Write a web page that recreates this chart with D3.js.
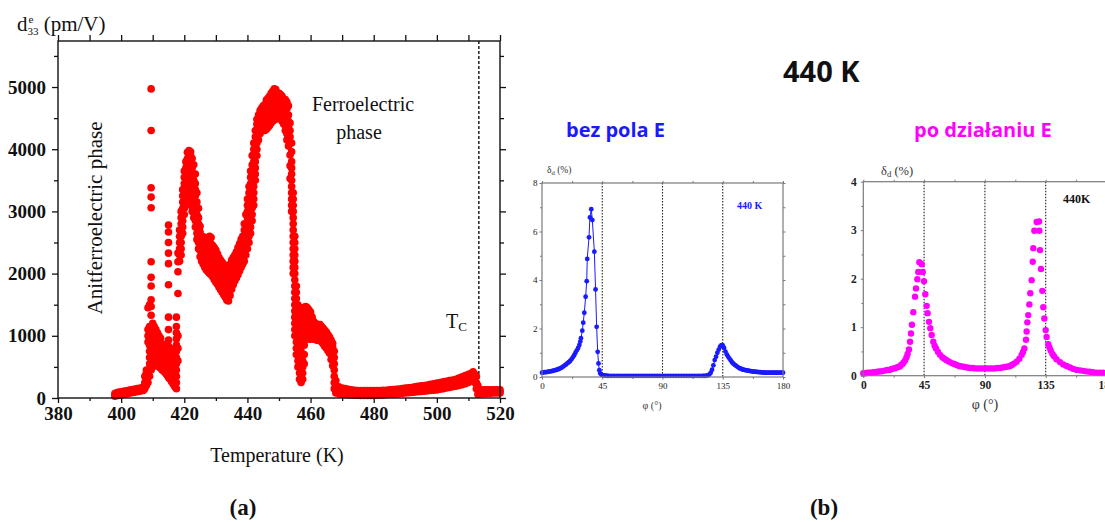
<!DOCTYPE html>
<html>
<head>
<meta charset="utf-8">
<script src="https://cdn.jsdelivr.net/npm/d3@7"></script>
<style>
  body { margin: 0; background: #fff; }
  svg { display: block; }
</style>
</head>
<body>
<svg id="fig" width="1105" height="522"></svg>
<script>
// ---------- (a) piezoelectric coefficient d33 versus temperature ----------
// each row: [temperature (K), d33 values (pm/V) recorded at that temperature ...]
const d33Rows = [
  [398, 30, 70], [398.5, 40, 80], [399, 40, 90], [399.5, 50, 90], [400, 50, 100],
  [401, 60, 110], [402, 70, 120], [403, 80, 130], [404, 90, 140], [405, 100, 150],
  [406, 110, 160], [407, 120, 180], [407.5, 150, 250, 350], [408, 200, 300, 400, 450],
  [408.5, 250, 350, 450, 900, 1000, 1100, 1450],
  [409, 350, 450, 550, 650, 750, 850, 950, 1050, 1150, 1500],
  [409.5, 450, 550, 650, 750, 850, 950, 1050, 1150, 1330, 1470, 1580, 1800, 1940, 2190, 3060, 3230, 3380, 4300, 4970],
  [410, 500, 600, 700, 800, 900, 1000, 1100, 1200],
  [410.5, 550, 650, 750, 850, 950, 1050, 1150],
  [411, 600, 700, 800, 900, 1000, 1100],
  [411.5, 550, 650, 750, 850, 950, 1050],
  [412, 500, 600, 700, 800, 900, 1000],
  [412.5, 480, 580, 680, 780, 880, 960],
  [413, 450, 550, 650, 750, 850],
  [413.5, 430, 530, 630, 730, 830],
  [414, 400, 500, 600, 700, 800],
  [414.5, 370, 470, 570, 670, 770, 870],
  [415, 330, 430, 530, 630, 730, 830, 930, 1100, 1300, 1820, 2160, 2330, 2500, 2670, 2780],
  [415.5, 300, 400, 500, 600, 700, 800],
  [416, 260, 360, 460, 560, 660, 760],
  [416.5, 220, 320, 420, 520, 620, 720],
  [417, 180, 280, 380, 480, 580, 680, 780],
  [417.5, 150, 250, 350, 450, 550, 650, 750, 850, 950, 1050, 1150, 1300],
  [418, 600, 800, 1000, 1680, 2030, 2190, 2330],
  [418.5, 2200, 2300, 2400, 2500, 2600, 2700],
  [419, 2300, 2400, 2500, 2600, 2700, 2800, 2900, 3000],
  [419.5, 2650, 2750, 2850, 2950, 3050, 3150, 3250, 3350],
  [420, 2950, 3050, 3150, 3250, 3350, 3450, 3550, 3650],
  [420.5, 3200, 3300, 3400, 3500, 3600, 3700, 3800],
  [421, 3450, 3550, 3650, 3750, 3850, 3950],
  [421.5, 3600, 3700, 3800, 3900, 3980],
  [422, 3100, 3200, 3300, 3400, 3500, 3600, 3700, 3800, 3900, 3960],
  [422.5, 3000, 3100, 3200, 3300, 3400, 3500, 3600, 3700, 3850],
  [423, 2900, 3000, 3100, 3200, 3300, 3400, 3500, 3600, 3750],
  [423.5, 2750, 2850, 2950, 3050, 3150, 3250, 3350, 3450, 3600],
  [424, 2550, 2650, 2750, 2850, 2950, 3050, 3150, 3300],
  [424.5, 2400, 2500, 2600, 2700, 2800, 2900, 3050],
  [425, 2270, 2370, 2470, 2570, 2670, 2760],
  [425.5, 2200, 2300, 2400, 2500, 2600],
  [426, 2150, 2250, 2350, 2450, 2590],
  [426.5, 2100, 2200, 2300, 2400, 2500, 2580],
  [427, 2060, 2160, 2260, 2360, 2460, 2560],
  [427.5, 2030, 2130, 2230, 2330, 2430, 2530],
  [428, 2000, 2100, 2200, 2300, 2400, 2500, 2600],
  [428.5, 1980, 2080, 2180, 2280, 2380, 2480, 2580],
  [429, 1950, 2050, 2150, 2250, 2350, 2450],
  [429.5, 1900, 2000, 2100, 2200, 2300, 2420],
  [430, 1860, 1960, 2060, 2160, 2260, 2380],
  [430.5, 1830, 1930, 2030, 2130, 2230, 2320],
  [431, 1780, 1880, 1980, 2080, 2180, 2260],
  [431.5, 1740, 1840, 1940, 2040, 2140, 2220],
  [432, 1700, 1800, 1900, 2000, 2100, 2180],
  [432.5, 1660, 1760, 1860, 1960, 2060, 2150],
  [433, 1620, 1720, 1820, 1920, 2020, 2120],
  [433.5, 1570, 1670, 1770, 1870, 1970, 2100],
  [434, 1560, 1660, 1760, 1860, 1960, 2080],
  [434.5, 1650, 1750, 1850, 1950, 2050, 2150],
  [435, 1750, 1850, 1950, 2050, 2150, 2220],
  [435.5, 1820, 1920, 2020, 2120, 2260],
  [436, 1880, 1980, 2080, 2180, 2300],
  [436.5, 1930, 2030, 2130, 2230, 2350],
  [437, 1980, 2080, 2180, 2280, 2420],
  [437.5, 2040, 2140, 2240, 2340, 2480],
  [438, 2100, 2200, 2300, 2400, 2550],
  [438.5, 2150, 2250, 2350, 2450, 2600],
  [439, 2200, 2300, 2400, 2500, 2600, 2700, 2800],
  [439.5, 2300, 2400, 2500, 2600, 2700, 2800, 2950],
  [440, 2400, 2500, 2600, 2700, 2800, 2900, 3000, 3100, 3200],
  [440.5, 2500, 2600, 2700, 2800, 2900, 3000, 3100, 3200, 3300, 3400],
  [441, 2650, 2750, 2850, 2950, 3050, 3150, 3250, 3350, 3450, 3550, 3650],
  [441.5, 2850, 2950, 3050, 3150, 3250, 3350, 3450, 3550, 3650, 3750, 3900],
  [442, 3100, 3200, 3300, 3400, 3500, 3600, 3700, 3800, 3900, 4000, 4100],
  [442.5, 3500, 3600, 3700, 3800, 3900, 4000, 4100, 4200, 4300],
  [443, 3900, 4000, 4100, 4200, 4300, 4400, 4480],
  [443.5, 4150, 4250, 4350, 4450, 4550],
  [444, 4250, 4350, 4450, 4550, 4620],
  [444.5, 4300, 4400, 4500, 4600, 4660],
  [445, 4300, 4400, 4500, 4600, 4700],
  [445.5, 4300, 4400, 4500, 4600, 4720],
  [446, 4320, 4420, 4520, 4620, 4720, 4790],
  [446.5, 4350, 4450, 4550, 4650, 4750, 4820],
  [447, 4380, 4480, 4580, 4680, 4780, 4850],
  [447.5, 4420, 4520, 4620, 4720, 4820, 4900],
  [448, 4450, 4550, 4650, 4750, 4850, 4930],
  [448.5, 4500, 4600, 4700, 4800, 4900, 4970],
  [449, 4480, 4580, 4680, 4780, 4880, 4960],
  [449.5, 4500, 4600, 4700, 4800, 4900],
  [450, 4520, 4620, 4720, 4820, 4900],
  [450.5, 4500, 4600, 4700, 4800, 4880],
  [451, 4450, 4550, 4650, 4750, 4850],
  [451.5, 4400, 4500, 4600, 4700, 4800],
  [452, 4300, 4400, 4500, 4600, 4700, 4800],
  [452.5, 4150, 4250, 4350, 4450, 4550, 4650, 4760],
  [453, 4050, 4150, 4250, 4350, 4450, 4550, 4700],
  [453.5, 3530, 3735, 3907, 4100, 4200, 4300, 4420],
  [454, 3000, 3100, 3200, 3300, 3400, 3500, 3600, 3700, 3800, 3960, 4100],
  [454.5, 2000, 2100, 2200, 2300, 2400, 2500, 2600, 2700, 2800, 2900, 3000, 3100, 3200, 3300],
  [455, 1000, 1100, 1200, 1300, 1400, 1500, 1600, 1700, 1800, 1900, 2000, 2100, 2200, 2300, 2400, 2500, 2600],
  [455.5, 700, 800, 900, 1000, 1100, 1200, 1300, 1400, 1500, 1600, 1700, 1800],
  [456, 500, 600, 700, 800, 900, 1000, 1100, 1200, 1300, 1400, 1500],
  [456.5, 300, 400, 500, 600, 700, 800, 900, 1000, 1250, 1350, 1450],
  [457, 250, 350, 450, 550, 650, 750, 1100, 1200, 1300, 1420],
  [457.5, 300, 400, 500, 600, 700, 1050, 1150, 1250, 1350, 1450],
  [458, 550, 700, 850, 1000, 1100, 1200, 1300, 1400, 1460],
  [458.5, 950, 1050, 1150, 1250, 1350, 1470],
  [459, 950, 1050, 1150, 1250, 1350, 1450],
  [459.5, 950, 1050, 1150, 1250, 1350, 1420],
  [460, 950, 1050, 1150, 1250, 1380],
  [460.5, 950, 1050, 1150, 1250, 1300],
  [461, 950, 1050, 1150, 1230],
  [461.5, 940, 1040, 1140, 1200],
  [462, 930, 1030, 1130, 1180],
  [462.5, 930, 1030, 1130, 1180],
  [463, 930, 1030, 1130, 1180],
  [463.5, 900, 1000, 1100, 1150],
  [464, 870, 970, 1070, 1120],
  [464.5, 830, 930, 1030, 1090],
  [465, 800, 900, 1000, 1060],
  [465.5, 760, 860, 960, 1020],
  [466, 720, 820, 920, 980],
  [466.5, 620, 720, 820, 930],
  [467, 520, 620, 720, 820, 880],
  [467.5, 150, 250, 350, 450, 550, 650, 750],
  [468, 80, 180, 280],
  [469, 70, 130, 180], [470, 60, 110, 160], [471, 55, 100, 150], [472, 50, 95, 140],
  [473, 50, 90, 130], [474, 45, 85, 125], [475, 45, 85, 120], [476, 40, 80, 120],
  [477, 40, 80, 120], [478, 40, 80, 120], [479, 40, 80, 120], [480, 40, 80, 120],
  [481, 45, 85, 120], [482, 50, 85, 120], [483, 50, 90, 125], [484, 55, 90, 125],
  [485, 60, 95, 130], [486, 60, 100, 135], [487, 65, 105, 140], [488, 70, 110, 145],
  [489, 75, 115, 150], [490, 80, 120, 160], [491, 85, 125, 165], [492, 90, 130, 170],
  [493, 95, 135, 180], [494, 100, 145, 190], [495, 105, 150, 195], [496, 110, 155, 200],
  [497, 115, 160, 210], [498, 120, 170, 220], [499, 125, 175, 230], [500, 130, 180, 240],
  [501, 140, 190, 250], [502, 150, 200, 260], [503, 160, 215, 270], [504, 170, 225, 280],
  [505, 180, 235, 290], [506, 190, 245, 300], [507, 200, 260, 320], [508, 215, 275, 340],
  [509, 230, 295, 360], [510, 250, 320, 380], [511, 280, 340, 400], [511.5, 300, 360, 420],
  [512, 250, 320, 380], [512.5, 150, 250, 350], [513, 60, 130, 200], [514, 70, 100, 130],
  [515, 70, 100, 130], [516, 75, 105, 130], [517, 75, 105, 130], [518, 80, 105, 130],
  [519, 80, 105, 130], [520, 80, 105, 130]
];
const tempTicks = [380, 400, 420, 440, 460, 480, 500, 520];
const tempMinorTicks = [390, 410, 430, 450, 470, 490, 510];
const d33Ticks = [0, 1000, 2000, 3000, 4000, 5000];
const d33MinorTicks = [500, 1500, 2500, 3500, 4500, 5500];
const curieTemp = 513.3;

// ---------- (b) angular dependence of delta_d at 440 K ----------
const phiTicks = [0, 45, 90, 135, 180];
const phiMinorTicks = [22.5, 67.5, 112.5, 157.5];
const phiGuides = [45, 90, 135];

// before the electric field: [phi (deg), delta_d (%)]
const deltaBefore = [
  [0, 0.18], [1, 0.19], [2, 0.2], [3, 0.2], [4, 0.21], [5, 0.22], [6, 0.23], [7, 0.24],
  [8, 0.25], [9, 0.27], [10, 0.28], [11, 0.3], [12, 0.32], [13, 0.34], [14, 0.37], [15, 0.4],
  [16, 0.44], [17, 0.48], [18, 0.52], [19, 0.57], [20, 0.61], [21, 0.66], [22, 0.73], [23, 0.81],
  [24, 0.9], [25, 1.0], [26, 1.1], [27, 1.2], [27.9, 1.32], [28.6, 1.46], [29.1, 1.6], [30.1, 1.91],
  [30.8, 2.24], [31.6, 2.65], [32.6, 3.31], [33.4, 3.95], [33.8, 4.87], [35.1, 5.76], [35.8, 6.58],
  [36.8, 6.92], [37.6, 6.47], [39.1, 5.17], [40.0, 3.61], [40.8, 2.07], [41.6, 1.04], [42.2, 0.56],
  [42.8, 0.28], [43.5, 0.15], [44.3, 0.1], [45, 0.08], [46, 0.07], [47, 0.06], [48, 0.06],
  [49, 0.05], [50, 0.05], [52, 0.05], [54, 0.05], [56, 0.05], [58, 0.05], [60, 0.05], [62, 0.05],
  [64, 0.05], [66, 0.05], [68, 0.05], [70, 0.05], [72, 0.05], [74, 0.05], [76, 0.05], [78, 0.05],
  [80, 0.05], [82, 0.05], [84, 0.05], [86, 0.05], [88, 0.05], [90, 0.05], [92, 0.05], [94, 0.05],
  [96, 0.05], [98, 0.05], [100, 0.05], [102, 0.05], [104, 0.05], [106, 0.05], [108, 0.05],
  [110, 0.05], [112, 0.05], [114, 0.05], [116, 0.05], [118, 0.05], [120, 0.05], [121, 0.05],
  [122, 0.05], [123, 0.06], [124, 0.07], [125, 0.1], [126, 0.18], [127, 0.3], [128, 0.48],
  [129, 0.7], [130, 0.84], [131, 1.0], [132, 1.13], [133, 1.25], [134, 1.31], [135, 1.3],
  [136, 1.2], [137, 1.05], [138, 0.93], [139, 0.84], [140, 0.76], [141, 0.68], [142, 0.6],
  [143, 0.55], [144, 0.5], [145, 0.46], [146, 0.42], [147, 0.38], [148, 0.35], [149, 0.33],
  [150, 0.31], [151, 0.29], [152, 0.28], [153, 0.27], [154, 0.26], [155, 0.25], [156, 0.24],
  [157, 0.23], [158, 0.22], [159, 0.22], [160, 0.21], [161, 0.21], [162, 0.2], [163, 0.2],
  [164, 0.19], [165, 0.19], [166, 0.18], [167, 0.18], [168, 0.18], [169, 0.18], [170, 0.18],
  [171, 0.18], [172, 0.18], [173, 0.18], [174, 0.18], [175, 0.18], [176, 0.18], [177, 0.18],
  [178, 0.18], [179, 0.18], [180, 0.18]
];

// after the electric field: [phi (deg), delta_d (%)]
const deltaAfter = [
  [0, 0.05], [1.5, 0.05], [3, 0.06], [4.5, 0.06], [6, 0.06], [7.5, 0.07], [9, 0.07], [10.5, 0.08],
  [12, 0.09], [13.5, 0.09], [15, 0.1], [16.5, 0.11], [18, 0.12], [19.5, 0.12], [21, 0.14],
  [22.5, 0.15], [24, 0.16], [25.5, 0.18], [27, 0.19], [28, 0.22], [29, 0.24], [30, 0.28],
  [31, 0.32], [32, 0.38], [32.8, 0.45], [33.8, 0.54], [34.6, 0.7], [35.3, 0.87], [36, 1.05],
  [37, 1.31], [38.3, 1.63], [39, 1.8], [40, 1.99], [40.7, 2.14], [41.5, 2.34], [43.2, 2.3],
  [44, 2.14], [44.9, 1.95], [45.9, 1.68], [46.9, 1.44], [47.6, 1.29], [48.6, 1.11], [49.6, 0.98],
  [50.6, 0.84], [51.8, 0.7], [52.8, 0.62], [53.8, 0.56], [55.3, 0.49], [56.8, 0.43], [58.5, 0.38],
  [60, 0.35], [61.7, 0.32], [63.5, 0.29], [65.5, 0.26], [67.3, 0.24], [69.1, 0.22], [71, 0.2],
  [73, 0.19], [75, 0.18], [77, 0.17], [79, 0.16], [81, 0.16], [83, 0.15], [85, 0.15], [87, 0.15],
  [89, 0.15], [91, 0.15], [93, 0.15], [95, 0.15], [97, 0.15], [99, 0.16], [101.2, 0.16],
  [103, 0.17], [105, 0.18], [107, 0.19], [108.6, 0.2], [110, 0.22], [111.5, 0.25], [113.5, 0.29],
  [115.5, 0.35], [117.2, 0.43], [118.2, 0.49], [119.2, 0.56], [120.4, 0.74], [120.9, 0.91],
  [121.4, 1.1], [122.1, 1.25], [122.9, 1.47], [123.6, 1.7], [124.6, 1.97], [125.4, 2.35],
  [125.8, 2.63], [126.6, 2.99], [128.3, 3.17], [130.1, 3.18], [130.3, 2.99], [130.8, 2.59],
  [131.5, 2.2], [132.5, 1.75], [133.2, 1.41], [134.0, 1.18], [135, 0.94], [135.7, 0.8],
  [136.9, 0.65], [137.8, 0.58], [138.7, 0.52], [140, 0.45], [141.2, 0.4], [143, 0.34],
  [145.6, 0.28], [148, 0.23], [150.5, 0.2], [153, 0.17], [155.5, 0.14], [158, 0.12],
  [160.5, 0.11], [162.8, 0.1], [165, 0.09], [167.5, 0.08], [170, 0.07], [172.7, 0.06],
  [175, 0.06], [177.5, 0.06], [180, 0.06]
];
const deltaBeforeTicks = [0, 2, 4, 6, 8];
const deltaBeforeMinor = [1, 3, 5, 7];
const deltaAfterTicks = [0, 1, 2, 3, 4];
const deltaAfterMinor = [0.5, 1.5, 2.5, 3.5];

const svg = d3.select("#fig");
const SERIF = "'Liberation Serif', 'Times New Roman', serif";
const SANS = "'Open Sans', 'Noto Sans', sans-serif";
const intFmt = d3.format("d");

// ===================== panel (a) =====================
const xT = d3.scaleLinear().domain([380, 520]).range([58, 500]);
const yD = d3.scaleLinear().domain([0, 5740]).range([398, 41]);
const gA = svg.append("g");

function styleAxis(sel, fontSize, weight, color, strokeColor) {
  sel.select(".domain").remove();
  sel.selectAll(".tick line").attr("stroke", strokeColor).attr("stroke-width", 1.3);
  sel.selectAll(".tick text")
    .attr("font-family", SERIF).attr("font-size", fontSize)
    .attr("font-weight", weight).attr("fill", color);
}

// major and minor ticks on all four sides (outward)
gA.append("g").attr("transform", "translate(0,398)")
  .call(d3.axisBottom(xT).tickValues(tempTicks).tickSize(5).tickPadding(4).tickFormat(intFmt))
  .call(s => styleAxis(s, 19, "bold", "#111", "#111"));
gA.append("g").attr("transform", "translate(0,398)")
  .call(d3.axisBottom(xT).tickValues(tempMinorTicks).tickSize(3).tickFormat(""))
  .call(s => styleAxis(s, 19, "bold", "#111", "#111"));
gA.append("g").attr("transform", "translate(0,41)")
  .call(d3.axisTop(xT).tickValues(tempTicks.concat(tempMinorTicks)).tickSize(6).tickFormat(""))
  .call(s => styleAxis(s, 19, "bold", "#111", "#111"));
gA.append("g").attr("transform", "translate(58,0)")
  .call(d3.axisLeft(yD).tickValues(d33Ticks).tickSize(6).tickPadding(6).tickFormat(intFmt))
  .call(s => styleAxis(s, 19, "bold", "#111", "#111"));
gA.append("g").attr("transform", "translate(58,0)")
  .call(d3.axisLeft(yD).tickValues(d33MinorTicks).tickSize(4).tickFormat(""))
  .call(s => styleAxis(s, 19, "bold", "#111", "#111"));
gA.append("g").attr("transform", "translate(500,0)")
  .call(d3.axisRight(yD).tickValues(d33Ticks).tickSize(6).tickFormat(""))
  .call(s => styleAxis(s, 19, "bold", "#111", "#111"));
gA.append("g").attr("transform", "translate(500,0)")
  .call(d3.axisRight(yD).tickValues(d33MinorTicks).tickSize(4).tickFormat(""))
  .call(s => styleAxis(s, 19, "bold", "#111", "#111"));

// Curie temperature marker
gA.append("line")
  .attr("x1", xT(curieTemp)).attr("x2", xT(curieTemp))
  .attr("y1", yD.range()[1]).attr("y2", yD.range()[0])
  .attr("stroke", "#111").attr("stroke-width", 1.4).attr("stroke-dasharray", "3,2");

// measured points
const d33Points = d33Rows.flatMap(r => r.slice(1).map(v => ({ t: r[0], v })));
gA.append("g").selectAll("circle").data(d33Points).join("circle")
  .attr("cx", d => xT(d.t)).attr("cy", d => yD(d.v)).attr("r", 3.8)
  .attr("fill", "#ff0000");

// frame
gA.append("rect").attr("x", 58).attr("y", 41).attr("width", 442).attr("height", 357)
  .attr("fill", "none").attr("stroke", "#111").attr("stroke-width", 1.4);

// labels
const yTitle = gA.append("text").attr("x", 17).attr("y", 31)
  .attr("font-family", SERIF).attr("font-size", 21).attr("fill", "#111");
yTitle.append("tspan").text("d");
yTitle.append("tspan").attr("font-size", 11).attr("dy", -8).attr("dx", 1).text("e");
yTitle.append("tspan").attr("font-size", 11).attr("dy", 12).attr("dx", -6).text("33");
yTitle.append("tspan").attr("dy", -4).text(" (pm/V)");

gA.append("text").attr("x", 363).attr("y", 111).attr("text-anchor", "middle")
  .attr("font-family", SERIF).attr("font-size", 20).attr("fill", "#111").text("Ferroelectric");
gA.append("text").attr("x", 359).attr("y", 139).attr("text-anchor", "middle")
  .attr("font-family", SERIF).attr("font-size", 20).attr("fill", "#111").text("phase");
gA.append("text").attr("transform", "translate(102,218) rotate(-90)").attr("text-anchor", "middle")
  .attr("font-family", SERIF).attr("font-size", 21).attr("fill", "#111").text("Anitferroelectric phase");
const tc = gA.append("text").attr("x", 446).attr("y", 328)
  .attr("font-family", SERIF).attr("font-size", 20).attr("fill", "#111");
tc.append("tspan").text("T");
tc.append("tspan").attr("font-size", 13).attr("dy", 3).text("C");
gA.append("text").attr("x", 277).attr("y", 462).attr("text-anchor", "middle")
  .attr("font-family", SERIF).attr("font-size", 20).attr("fill", "#111").text("Temperature (K)");

svg.append("text").attr("x", 243).attr("y", 515).attr("text-anchor", "middle")
  .attr("font-family", SERIF).attr("font-size", 23).attr("font-weight", "bold").attr("fill", "#111").text("(a)");
svg.append("text").attr("x", 824).attr("y", 515).attr("text-anchor", "middle")
  .attr("font-family", SERIF).attr("font-size", 23).attr("font-weight", "bold").attr("fill", "#111").text("(b)");

// ===================== panel (b) =====================
svg.append("text").attr("x", 783).attr("y", 82)
  .attr("font-family", SANS).attr("font-size", 29).attr("font-weight", "bold").attr("fill", "#111").text("440 K");
svg.append("text").attr("x", 566).attr("y", 137)
  .attr("font-family", SANS).attr("font-size", 20).attr("font-weight", "bold").attr("fill", "#1a1aff").text("bez pola E");
svg.append("text").attr("x", 914).attr("y", 137)
  .attr("font-family", SANS).attr("font-size", 20).attr("font-weight", "bold").attr("fill", "#ff00ff").text("po działaniu E");

function smallPanel(cfg) {
  const g = svg.append("g");
  const x = d3.scaleLinear().domain([0, 180]).range(cfg.xRange);
  const y = d3.scaleLinear().domain([0, cfg.yMax]).range(cfg.yRange);
  const [x0, x1] = cfg.xRange, [yb, yt] = cfg.yRange;
  const axisStroke = "#7a7a7a";
  const st = (s) => {
    s.select(".domain").remove();
    s.selectAll(".tick line").attr("stroke", axisStroke).attr("stroke-width", 1);
    s.selectAll(".tick text").attr("font-family", SERIF).attr("font-size", cfg.tickFont)
      .attr("font-weight", cfg.tickWeight).attr("fill", "#222");
  };
  g.append("g").attr("transform", `translate(0,${yb})`)
    .call(d3.axisBottom(x).tickValues(phiTicks).tickSize(2.5).tickPadding(cfg.xPad).tickFormat(intFmt)).call(st);
  g.append("g").attr("transform", `translate(0,${yb})`)
    .call(d3.axisBottom(x).tickValues(phiMinorTicks).tickSize(2).tickFormat("")).call(st);
  g.append("g").attr("transform", `translate(0,${yt})`)
    .call(d3.axisTop(x).tickValues(phiTicks.concat(phiMinorTicks)).tickSize(2).tickFormat("")).call(st);
  g.append("g").attr("transform", `translate(${x0},0)`)
    .call(d3.axisLeft(y).tickValues(cfg.yTicks).tickSize(2.5).tickPadding(cfg.yPad).tickFormat(intFmt)).call(st);
  g.append("g").attr("transform", `translate(${x0},0)`)
    .call(d3.axisLeft(y).tickValues(cfg.yMinor).tickSize(2).tickFormat("")).call(st);
  g.append("g").attr("transform", `translate(${x1},0)`)
    .call(d3.axisRight(y).tickValues(cfg.yTicks.concat(cfg.yMinor)).tickSize(2.5).tickFormat("")).call(st);

  // guide lines at 45, 90, 135 degrees
  g.append("g").selectAll("line").data(phiGuides).join("line")
    .attr("x1", d => x(d)).attr("x2", d => x(d)).attr("y1", yt).attr("y2", yb)
    .attr("stroke", "#222").attr("stroke-width", 1.1).attr("stroke-dasharray", "1.5,1.5");

  if (cfg.line) {
    g.append("path").datum(cfg.data)
      .attr("d", d3.line().x(d => x(d[0])).y(d => y(d[1])))
      .attr("fill", "none").attr("stroke", cfg.color).attr("stroke-width", 1);
  }
  g.append("g").selectAll("circle").data(cfg.data).join("circle")
    .attr("cx", d => x(d[0])).attr("cy", d => y(d[1])).attr("r", cfg.r).attr("fill", cfg.color);

  g.append("rect").attr("x", x0).attr("y", yt).attr("width", x1 - x0).attr("height", yb - yt)
    .attr("fill", "none").attr("stroke", axisStroke).attr("stroke-width", 1.2);

  // axis titles
  const yl = g.append("text").attr("x", cfg.yLabelPos[0]).attr("y", cfg.yLabelPos[1])
    .attr("font-family", SERIF).attr("font-size", cfg.labelFont).attr("fill", "#333");
  yl.append("tspan").text("δ");
  yl.append("tspan").attr("font-size", cfg.labelFont * 0.7).attr("dy", 2).text("d");
  yl.append("tspan").attr("dy", -2).text(" (%)");
  g.append("text").attr("x", cfg.xLabelPos[0]).attr("y", cfg.xLabelPos[1]).attr("text-anchor", "middle")
    .attr("font-family", SERIF).attr("font-size", cfg.xLabelFont).attr("fill", "#333").text("φ (°)");
  g.append("text").attr("x", cfg.tagPos[0]).attr("y", cfg.tagPos[1])
    .attr("font-family", SERIF).attr("font-size", cfg.tagFont).attr("font-weight", "bold")
    .attr("fill", cfg.tagColor).text(cfg.tag);
}

smallPanel({
  xRange: [542, 783], yRange: [377, 183], yMax: 8,
  yTicks: deltaBeforeTicks, yMinor: deltaBeforeMinor,
  data: deltaBefore, color: "#1a1aff", r: 2.4, line: true,
  tickFont: 9, tickWeight: "normal", xPad: 3, yPad: 2,
  labelFont: 9.5, yLabelPos: [547, 173], xLabelFont: 10, xLabelPos: [652, 409],
  tag: "440 K", tagPos: [737, 209], tagFont: 10, tagColor: "#1a1aff"
});
smallPanel({
  xRange: [863.3, 1106.5], yRange: [375.7, 181.7], yMax: 4,
  yTicks: deltaAfterTicks, yMinor: deltaAfterMinor,
  data: deltaAfter, color: "#ff00ff", r: 3.2, line: false,
  tickFont: 11.5, tickWeight: "bold", xPad: 3, yPad: 4,
  labelFont: 12.5, yLabelPos: [881, 175], xLabelFont: 14, xLabelPos: [985, 409],
  tag: "440K", tagPos: [1063, 203], tagFont: 12, tagColor: "#111"
});
</script>
</body>
</html>
